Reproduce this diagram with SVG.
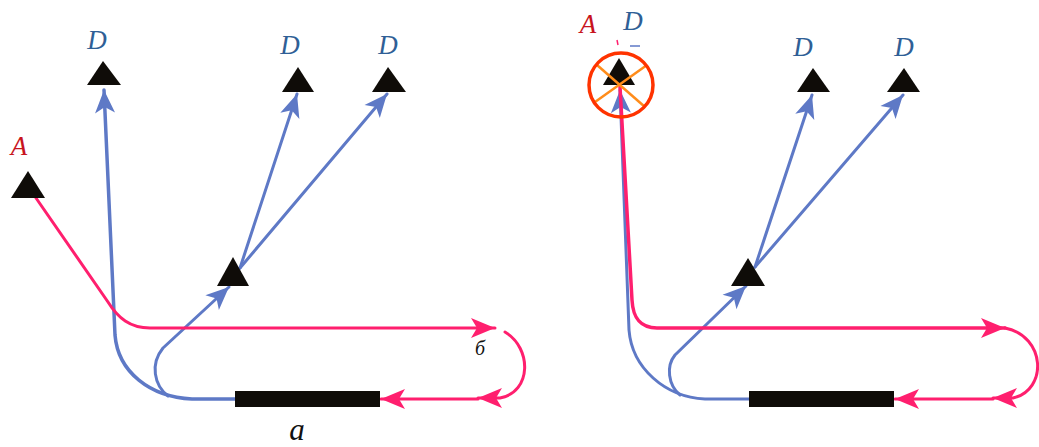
<svg xmlns="http://www.w3.org/2000/svg" width="1039" height="447" viewBox="0 0 1039 447">
<style>
.tri{fill:#0f0c08}
.bar{fill:#0f0c08}
.blue{fill:none;stroke:#5e79c6;stroke-width:3;stroke-linecap:round;stroke-linejoin:round}
.pink{fill:none;stroke:#ff1f6e;stroke-width:3;stroke-linecap:round;stroke-linejoin:round}
.lblD{font-family:"Liberation Serif",serif;font-style:italic;font-size:27px;fill:#2f5f96}
.lblA{font-family:"Liberation Serif",serif;font-style:italic;font-size:27px;fill:#c8141e}
.lblS{font-family:"Liberation Serif",serif;font-style:italic;font-size:20px;fill:#111}
.lblB{font-family:"Liberation Serif",serif;font-style:italic;font-size:31px;fill:#111}
</style>
<defs>
<marker id="ab" markerUnits="userSpaceOnUse" markerWidth="30" markerHeight="30" viewBox="-25 -12 30 24" refX="0" refY="0" orient="auto" overflow="visible">
<path d="M0,0 L-23,-10 L-17,0 L-23,10 Z" fill="#5e79c6"/>
</marker>
<marker id="ap" markerUnits="userSpaceOnUse" markerWidth="30" markerHeight="30" viewBox="-25 -12 30 24" refX="0" refY="0" orient="auto" overflow="visible">
<path d="M0,0 L-24,-10 L-18,0 L-24,10 Z" fill="#ff1f6e"/>
</marker>
</defs>

<g id="connectors">
<!-- left panel -->
<path class="blue" style="stroke-width:3.5" d="M235,399 L192,399 C150,397 118,372 115,335 L104,90" marker-end="url(#ab)"/>
<path class="blue" d="M168,396 C154,385 150,364 163,348 L229,287" marker-end="url(#ab)"/>
<path class="blue" d="M240,268 L297,94" marker-end="url(#ab)"/>
<path class="blue" d="M240,268 L387,94" marker-end="url(#ab)"/>
<path class="pink" d="M36,198 L108,302 C118,318 130,328 150,328 L495,328" marker-end="url(#ap)"/>
<path class="pink" d="M505,332 C532,348 532,392 500,398 L478,398" marker-end="url(#ap)"/>
<path class="pink" d="M478,399 L381,399" marker-end="url(#ap)"/>
<!-- right panel -->
<path class="blue" d="M750,399 L705,399 C665,397 632,368 629,330 L620,90" marker-end="url(#ab)"/>
<path class="blue" d="M680,395 C668,385 666,366 675,355 L746,286" marker-end="url(#ab)"/>
<path class="blue" d="M755,267 L812,95" marker-end="url(#ab)"/>
<path class="blue" d="M755,267 L903,95" marker-end="url(#ab)"/>
<path class="pink" style="stroke-width:3.5" d="M620,87 L632,300 C633,318 640,328 657,328 L1005,328" marker-end="url(#ap)"/>
<path class="pink" d="M1005,328 C1046,336 1048,390 1013,398 L993,398" marker-end="url(#ap)"/>
<path class="pink" d="M993,399 L895,399" marker-end="url(#ap)"/>
<path d="M617,40 L618,45" stroke="#ff1f6e" stroke-width="1.5" fill="none"/>
<path d="M630,46 L640,46" stroke="#5e79c6" stroke-width="1.5" fill="none"/>
</g>

<!-- left panel nodes -->
<g id="L-D1">
<polygon class="tri" points="103,61 87,85 121,85"/>
<text class="lblD" x="97" y="49" text-anchor="middle">D</text>
</g>
<g id="L-D2">
<polygon class="tri" points="298,67 282,92 314,92"/>
<text class="lblD" x="290" y="54" text-anchor="middle">D</text>
</g>
<g id="L-D3">
<polygon class="tri" points="388,67 372,92 406,92"/>
<text class="lblD" x="388" y="54" text-anchor="middle">D</text>
</g>
<g id="L-A">
<polygon class="tri" points="28,171 11,198 45,198"/>
<text class="lblA" x="19" y="155" text-anchor="middle">A</text>
</g>
<g id="L-mid">
<polygon class="tri" points="233,257 217,286 249,286"/>
</g>
<g id="L-bar">
<rect class="bar" x="235" y="391" width="145" height="16"/>
</g>
<g id="L-labels">
<text class="lblS" x="480" y="355" text-anchor="middle">б</text>
<text class="lblB" x="297" y="440" text-anchor="middle">а</text>
</g>

<!-- right panel nodes -->
<g id="R-AD">
<polygon class="tri" points="619,58 603,85 635,85"/>
<line x1="597" y1="65" x2="645" y2="107" stroke="#ff8c1a" stroke-width="2.5"/>
<line x1="647" y1="65" x2="595" y2="102" stroke="#ff8c1a" stroke-width="2.5"/>
<circle cx="621" cy="85" r="32" fill="none" stroke="#ff3300" stroke-width="3.5"/>
<text class="lblA" x="588" y="33" text-anchor="middle">A</text>
<text class="lblD" x="633" y="30" text-anchor="middle">D</text>
</g>
<g id="R-D2">
<polygon class="tri" points="813,68 797,92 830,92"/>
<text class="lblD" x="803" y="56" text-anchor="middle">D</text>
</g>
<g id="R-D3">
<polygon class="tri" points="904,68 887,92 920,92"/>
<text class="lblD" x="904" y="56" text-anchor="middle">D</text>
</g>
<g id="R-mid">
<polygon class="tri" points="748,258 731,286 765,286"/>
</g>
<g id="R-bar">
<rect class="bar" x="749" y="391" width="145" height="16"/>
</g>
</svg>
